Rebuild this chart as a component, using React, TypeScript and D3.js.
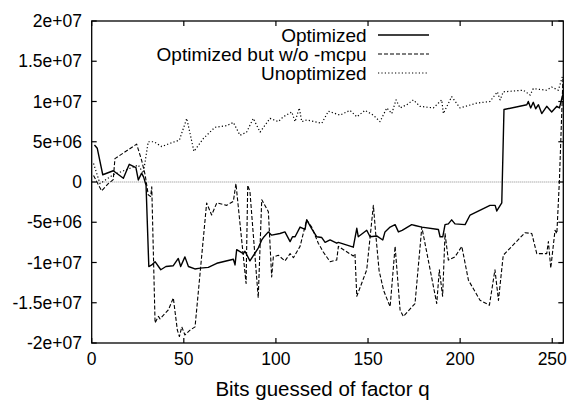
import React from 'react';
import * as d3 from 'd3';

// values in units of 1e6: [bits guessed, value]
const optimized: [number, number][] = [
    [1.5, 4.6], [3, 4.2], [6, 0.9], [11.7, 1.4], [17.2, 0.46], [20.4, 2.2], [24, 1.8], [25.3, 0.25],
    [27.1, 1.1], [28.2, 0.6], [29.5, -0.4], [31, -10.5], [32.6, -10.3], [34.4, -9.9], [37.5, -10.9],
    [40.3, -10.5], [44.3, -10.4], [47, -9.5], [48.3, -10.5], [50.6, -9.3], [52.5, -10.5], [56, -10.8],
    [58.9, -10.7], [63.3, -10.6], [67.9, -10.1], [76.9, -9.6], [77.8, -10.3], [78.7, -8.4], [82.3, -8.9],
    [83.2, -8.6], [85.9, -9.8], [90.4, -8.2], [92.3, -7.2], [93.2, -6.9], [95.9, -6.2], [97.7, -6.6],
    [102.2, -6.4], [104.9, -6.2], [107.7, -7.4], [109, -6.8], [110.4, -6.8], [113.1, -5.6], [115.8, -5.9],
    [116.7, -4.7], [119.4, -5.8], [122.1, -6.8], [124.9, -6.9], [126.7, -7.5], [129.4, -7.2], [133, -7.6],
    [133.9, -7.5], [142, -8.1], [143.9, -5.75], [144.7, -6.8], [149.3, -6], [151.1, -6.8], [154.7, -6.7],
    [158, -7.2], [159.2, -6.2], [162, -5.6], [164.7, -5.3], [166.5, -6.2], [168.5, -6.0], [173.7, -5.3],
    [175.5, -5.4], [179.2, -5.6], [188.2, -5.9], [189.1, -6.8], [190.6, -6.8], [191.8, -5.3], [193.6, -5.2],
    [195.4, -4.7], [197.2, -5.2], [202.7, -5.3], [205.4, -4.1], [216.2, -2.9], [219, -2.9], [219.9, -3.6],
    [222.6, -2.6], [223.8, 9.0], [236.2, 9.6], [237, 10], [238.3, 9.2], [239.7, 9.9], [241, 9.1],
    [242.5, 9.6], [244.3, 8.5], [247, 9.4], [249.7, 8.7], [252.5, 9.4], [253.9, 9.2], [255.8, 10.9],
];

const noMcpu: [number, number][] = [
    [1, 0.8], [5.4, -1.1], [9, -0.2], [11.7, 0.3], [12.6, 2.9], [24.4, 4.7], [27.1, 2.7], [29, 0.9],
    [30.7, -1.6], [32, -1.8], [32.6, -0.6], [34.4, -17.5], [36.2, -16.7], [37.1, -17], [41.6, -15.9],
    [44.3, -14.4], [46.5, -18.4], [47.6, -19.2], [48.9, -18], [50.6, -19], [53.4, -18.4], [56.1, -18],
    [62.4, -2.6], [65.1, -4.1], [67.9, -2.6], [73.3, -2.9], [76.9, -2.4], [78.3, -0.2], [83.8, -12.6],
    [84.7, -0.4], [85.9, -1.2], [90.4, -14.4], [92.3, -2.2], [95.9, -3.7], [97.7, -11.8], [98.6, -9.3],
    [101.3, -9.1], [104.9, -9.8], [107.7, -8.9], [109.5, -9.4], [113.1, -8], [116.7, -4.7], [119.4, -5.6],
    [123, -7.6], [125.7, -8.7], [129.4, -9.9], [133, -9.7], [133.9, -8], [142, -9.2], [142.9, -8.9],
    [143.9, -14.2], [149.3, -10.9], [152.9, -2.9], [154.2, -6.5], [156, -11], [158.5, -13.5], [162, -15.5],
    [164.7, -8], [167.4, -15.9], [169.2, -16.7], [175.5, -15.1], [179.2, -5.6], [187.3, -15.1], [188.7, -10.9],
    [190.5, -14.2], [191.8, -6.4], [193.6, -9.7], [197.2, -9.3], [200.9, -8], [204.5, -12.2], [210.8, -14.7],
    [215.9, -15.3], [218.9, -10.9], [220.8, -14.7], [223.4, -9.1], [235.2, -6.3], [238.9, -6.4], [241.6, -8.9],
    [247, -8.9], [247.9, -7.4], [249.2, -10.7], [251.5, -6], [252.5, -6.4], [253.9, 0.25], [255.8, 12.8],
];

const unoptimized: [number, number][] = [
    [1, 2.3], [4.5, -0.2], [11.7, 0.9], [25.3, 2.1], [28, 1.1], [30.7, 5.0], [33.8, 5.0], [38, 4.4],
    [42.5, 4.8], [47.6, 5.2], [51.6, 7.9], [55.5, 3.8], [60.6, 5.4], [66.9, 6.8], [73.3, 7.0], [76.9, 7.4],
    [80.5, 5.8], [84.1, 6.2], [87.7, 7.9], [91.4, 6.2], [96.8, 7.9], [101.3, 7.5], [104, 8.1], [108.6, 8.7],
    [110.4, 7.5], [112.7, 9.2], [114, 7.5], [116.7, 7.7], [124.9, 7.3], [128.5, 8.8], [134.8, 8.3],
    [140.2, 8.9], [143.9, 8.1], [148.4, 8.9], [152.9, 8.3], [156.5, 7.5], [160.2, 9.2], [162.9, 8.5],
    [165.2, 10.2], [167.4, 9.2], [171, 9.6], [174.6, 10.2], [178.2, 9.4], [185.5, 9.2], [190, 10.2],
    [190.9, 8.5], [195.4, 10.6], [199.9, 9.2], [209, 9.8], [216.2, 10], [220.2, 11.2], [221.7, 10.2],
    [223.4, 11.2], [234.3, 11.4], [238, 10.8], [239.7, 11.6], [247, 11.4], [249.7, 11.8], [253.3, 11.4],
    [255.5, 13.1],
];

const xTicks = [0, 50, 100, 150, 200, 250];
const yTicks = [-2e7, -1.5e7, -1e7, -5e6, 0, 5e6, 1e7, 1.5e7, 2e7];
const legendLabels = ['Optimized', 'Optimized but w/o -mcpu', 'Unoptimized'];

const FONT = '"Liberation Sans", Arial, Helvetica, sans-serif';

// gnuplot-ish "%g" labels: 2e+07, 1.5e+07, 5e+06
function fmt(v: number) {
    if (v === 0) return '0';
    const exp = Math.floor(Math.log10(Math.abs(v)));
    const mant = +(v / Math.pow(10, exp)).toFixed(3);
    return `${mant}e+${String(exp).padStart(2, '0')}`;
}

export default function App() {
    const width = 570;
    const height = 402;
    const left = 91.7, right = 563.3, top = 21, bottom = 343;

    const x = d3.scaleLinear().domain([0, 256]).range([left, right]);
    const y = d3.scaleLinear().domain([-2e7, 2e7]).range([bottom, top]);

    const line = d3.line<[number, number]>()
        .x(d => x(d[0]))
        .y(d => y(d[1] * 1e6));

    const series = [
        { data: optimized, dash: undefined, w: 1.4 },
        { data: noMcpu, dash: '4,2', w: 1.1 },
        { data: unoptimized, dash: '1.2,2.2', w: 1.2 },
    ];

    const tick = 5;

    return (
        <svg width={width} height={height} style={{ position: 'absolute', left: 0, top: 0, background: '#fff' }}>
            <defs>
                <clipPath id="plot">
                    <rect x={left} y={top} width={right - left} height={bottom - top} />
                </clipPath>
            </defs>
            <rect width={width} height={height} fill="#fff" />

            {/* zero line */}
            <line x1={left} x2={right} y1={y(0)} y2={y(0)} stroke="#888" strokeWidth={1} strokeDasharray="1,1" />

            <g clipPath="url(#plot)">
                {series.map((s, i) => (
                    <path key={i} d={line(s.data) || ''} fill="none" stroke="#000"
                        strokeWidth={s.w} strokeDasharray={s.dash} strokeLinejoin="round" />
                ))}
            </g>

            {/* frame and mirrored ticks */}
            <rect x={left} y={top} width={right - left} height={bottom - top} fill="none" stroke="#000" strokeWidth={1.3} />
            {xTicks.map(t => (
                <g key={'x' + t}>
                    <line x1={x(t)} x2={x(t)} y1={bottom} y2={bottom - tick} stroke="#000" strokeWidth={1.2} />
                    <line x1={x(t)} x2={x(t)} y1={top} y2={top + tick} stroke="#000" strokeWidth={1.2} />
                    <text x={x(t)} y={365} textAnchor="middle" fontFamily={FONT} fontSize={17.5}>{t}</text>
                </g>
            ))}
            {yTicks.map(t => (
                <g key={'y' + t}>
                    <line x1={left} x2={left + tick} y1={y(t)} y2={y(t)} stroke="#000" strokeWidth={1.2} />
                    <line x1={right} x2={right - tick} y1={y(t)} y2={y(t)} stroke="#000" strokeWidth={1.2} />
                    <text x={82} y={y(t)} dy="0.35em" textAnchor="end" fontFamily={FONT} fontSize={17.5}>{fmt(t)}</text>
                </g>
            ))}

            <text x={(left + right) / 2 - 5} y={396} textAnchor="middle" fontFamily={FONT} fontSize={20.5}>
                Bits guessed of factor q
            </text>

            {/* legend */}
            {legendLabels.map((lab, i) => {
                const ly = 35 + i * 19;
                return (
                    <g key={lab}>
                        <text x={366.7} y={ly} dy="0.35em" textAnchor="end" fontFamily={FONT} fontSize={19}>{lab}</text>
                        <line x1={378} x2={429} y1={ly} y2={ly} stroke="#000"
                            strokeWidth={series[i].w} strokeDasharray={series[i].dash} />
                    </g>
                );
            })}
        </svg>
    );
}
